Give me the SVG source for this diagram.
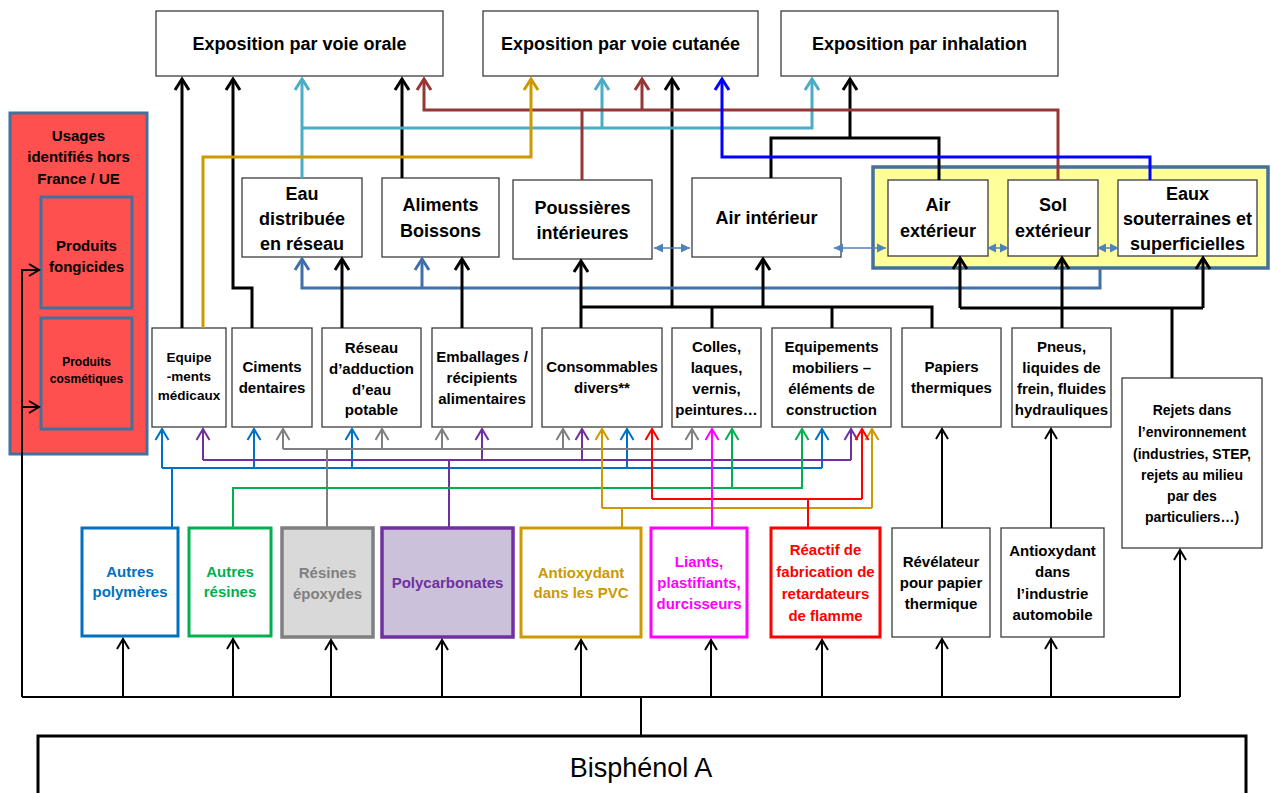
<svg xmlns="http://www.w3.org/2000/svg" width="1271" height="793" viewBox="0 0 1271 793">
<style>
.box{fill:#fff;stroke:#3c3c3c;stroke-width:1.3}
.t{font-family:"Liberation Sans",Arial,sans-serif;font-weight:bold;text-anchor:middle;fill:#000}
.s18{font-size:18px}.s15{font-size:15px}.s14{font-size:14px}.s13{font-size:13.5px}.s12{font-size:12px}
.w3{fill:none;stroke-width:3}
.w2{fill:none;stroke-width:2}
.k{stroke:#000}.cy{stroke:#4BACC6}.br{stroke:#953735}.go{stroke:#CC9900}.bl{stroke:#0000FF}.st{stroke:#4170A8}
.b2{stroke:#0070C0}.pu{stroke:#7030A0}.gr{stroke:#808080}.gn{stroke:#00B050}.rd{stroke:#FF0000}.mg{stroke:#FF00FF}
.bd{fill:none;stroke:#4F81BD;stroke-width:1.5}
</style>
<defs>
<marker id="ak3" markerUnits="userSpaceOnUse" orient="auto" overflow="visible" refX="0" refY="0"><path d="M-11,-7 L0,0 L-11,7" fill="none" stroke="#000" stroke-width="3"/></marker>
<marker id="acy" markerUnits="userSpaceOnUse" orient="auto" overflow="visible" refX="0" refY="0"><path d="M-11,-7 L0,0 L-11,7" fill="none" stroke="#4BACC6" stroke-width="3"/></marker>
<marker id="abr" markerUnits="userSpaceOnUse" orient="auto" overflow="visible" refX="0" refY="0"><path d="M-11,-7 L0,0 L-11,7" fill="none" stroke="#953735" stroke-width="3"/></marker>
<marker id="ago3" markerUnits="userSpaceOnUse" orient="auto" overflow="visible" refX="0" refY="0"><path d="M-11,-7 L0,0 L-11,7" fill="none" stroke="#CC9900" stroke-width="3"/></marker>
<marker id="abl" markerUnits="userSpaceOnUse" orient="auto" overflow="visible" refX="0" refY="0"><path d="M-11,-7 L0,0 L-11,7" fill="none" stroke="#0000FF" stroke-width="3"/></marker>
<marker id="ast" markerUnits="userSpaceOnUse" orient="auto" overflow="visible" refX="0" refY="0"><path d="M-11,-7 L0,0 L-11,7" fill="none" stroke="#4170A8" stroke-width="3"/></marker>
<marker id="ab2" markerUnits="userSpaceOnUse" orient="auto" overflow="visible" refX="0" refY="0"><path d="M-11,-6.5 L0,0 L-11,6.5" fill="none" stroke="#0070C0" stroke-width="2"/></marker>
<marker id="apu" markerUnits="userSpaceOnUse" orient="auto" overflow="visible" refX="0" refY="0"><path d="M-11,-6.5 L0,0 L-11,6.5" fill="none" stroke="#7030A0" stroke-width="2"/></marker>
<marker id="agr" markerUnits="userSpaceOnUse" orient="auto" overflow="visible" refX="0" refY="0"><path d="M-11,-6.5 L0,0 L-11,6.5" fill="none" stroke="#808080" stroke-width="2"/></marker>
<marker id="agn" markerUnits="userSpaceOnUse" orient="auto" overflow="visible" refX="0" refY="0"><path d="M-11,-6.5 L0,0 L-11,6.5" fill="none" stroke="#00B050" stroke-width="2"/></marker>
<marker id="ago2" markerUnits="userSpaceOnUse" orient="auto" overflow="visible" refX="0" refY="0"><path d="M-11,-6.5 L0,0 L-11,6.5" fill="none" stroke="#CC9900" stroke-width="2"/></marker>
<marker id="ard" markerUnits="userSpaceOnUse" orient="auto" overflow="visible" refX="0" refY="0"><path d="M-11,-6.5 L0,0 L-11,6.5" fill="none" stroke="#FF0000" stroke-width="2"/></marker>
<marker id="amg" markerUnits="userSpaceOnUse" orient="auto" overflow="visible" refX="0" refY="0"><path d="M-11,-6.5 L0,0 L-11,6.5" fill="none" stroke="#FF00FF" stroke-width="2"/></marker>
<marker id="ak2" markerUnits="userSpaceOnUse" orient="auto" overflow="visible" refX="0" refY="0"><path d="M-10,-6 L0,0 L-10,6" fill="none" stroke="#000" stroke-width="2"/></marker>
<marker id="abd" markerUnits="userSpaceOnUse" orient="auto-start-reverse" overflow="visible" refX="0" refY="0"><path d="M-9,-4.5 L0,0 L-9,4.5 Z" fill="#4F81BD"/></marker>
</defs>

<!-- top exposure boxes -->
<g id="exp-orale"><rect class="box" x="156" y="11" width="287" height="65"/><text class="t s18" x="299.5" y="50">Exposition par voie orale</text></g>
<g id="exp-cutanee"><rect class="box" x="483" y="11" width="275" height="65"/><text class="t s18" x="620.5" y="50">Exposition par voie cutanée</text></g>
<g id="exp-inhalation"><rect class="box" x="781" y="11" width="277" height="65"/><text class="t s18" x="919.5" y="50">Exposition par inhalation</text></g>

<!-- hors UE -->
<g id="hors-ue">
  <rect x="10" y="113" width="137" height="341" fill="#FF5050" stroke="#41719C" stroke-width="3"/>
  <text class="t s15" x="78.5" y="141">Usages</text>
  <text class="t s15" x="78.5" y="162">identifiés hors</text>
  <text class="t s15" x="78.5" y="184">France / UE</text>
</g>
<g id="fongicides"><rect x="41" y="197" width="91" height="111" fill="#FF5050" stroke="#41719C" stroke-width="3"/><text class="t s15" x="86.5" y="251">Produits</text><text class="t s15" x="86.5" y="272">fongicides</text></g>
<g id="cosmetiques"><rect x="41" y="318" width="91" height="111" fill="#FF5050" stroke="#41719C" stroke-width="3"/><text class="t s12" x="86.5" y="366">Produits</text><text class="t s12" x="86.5" y="383">cosmétiques</text></g>

<!-- media -->
<g id="eau"><rect class="box" x="242" y="178" width="120" height="79"/><text class="t s18" x="302" y="200">Eau</text><text class="t s18" x="302" y="225">distribuée</text><text class="t s18" x="302" y="250">en réseau</text></g>
<g id="aliments"><rect class="box" x="382" y="178" width="117" height="79"/><text class="t s18" x="440.5" y="211">Aliments</text><text class="t s18" x="440.5" y="237">Boissons</text></g>
<g id="poussieres"><rect class="box" x="513" y="180" width="139" height="79"/><text class="t s18" x="582.5" y="214">Poussières</text><text class="t s18" x="582.5" y="239">intérieures</text></g>
<g id="air-int"><rect class="box" x="692" y="178" width="149" height="79"/><text class="t s18" x="766.5" y="224">Air intérieur</text></g>
<g id="environnement"><rect x="873" y="167" width="395" height="101" fill="#FFFF99" stroke="#41719C" stroke-width="3.5"/></g>
<g id="air-ext"><rect class="box" x="888" y="180" width="100" height="76"/><text class="t s18" x="938" y="211">Air</text><text class="t s18" x="938" y="237">extérieur</text></g>
<g id="sol"><rect class="box" x="1008" y="180" width="90" height="76"/><text class="t s18" x="1053" y="211">Sol</text><text class="t s18" x="1053" y="237">extérieur</text></g>
<g id="eaux"><rect class="box" x="1118" y="180" width="139" height="76"/><text class="t s18" x="1187.5" y="200">Eaux</text><text class="t s18" x="1187.5" y="225">souterraines et</text><text class="t s18" x="1187.5" y="250">superficielles</text></g>

<!-- usages -->
<g id="equipements-medicaux"><rect class="box" x="152" y="328" width="74" height="99"/><text class="t s13" x="189" y="362">Equipe</text><text class="t s13" x="189" y="381">-ments</text><text class="t s13" x="189" y="400">médicaux</text></g>
<g id="ciments"><rect class="box" x="232" y="328" width="80" height="99"/><text class="t s15" x="272" y="372">Ciments</text><text class="t s15" x="272" y="393">dentaires</text></g>
<g id="reseau"><rect class="box" x="322" y="328" width="99" height="99"/><text class="t s15" x="371.5" y="353">Réseau</text><text class="t s15" x="371.5" y="374">d’adduction</text><text class="t s15" x="371.5" y="395">d’eau</text><text class="t s15" x="371.5" y="415">potable</text></g>
<g id="emballages"><rect class="box" x="432" y="328" width="100" height="99"/><text class="t s15" x="482" y="362">Emballages /</text><text class="t s15" x="482" y="383">récipients</text><text class="t s15" x="482" y="404">alimentaires</text></g>
<g id="consommables"><rect class="box" x="542" y="328" width="120" height="99"/><text class="t s15" x="602" y="372">Consommables</text><text class="t s15" x="602" y="393">divers**</text></g>
<g id="colles"><rect class="box" x="672" y="328" width="89" height="99"/><text class="t s15" x="716.5" y="352">Colles,</text><text class="t s15" x="716.5" y="373">laques,</text><text class="t s15" x="716.5" y="394">vernis,</text><text class="t s15" x="716.5" y="415">peintures…</text></g>
<g id="equipements-mobiliers"><rect class="box" x="772" y="328" width="119" height="99"/><text class="t s15" x="831.5" y="352">Equipements</text><text class="t s15" x="831.5" y="373">mobiliers –</text><text class="t s15" x="831.5" y="394">éléments de</text><text class="t s15" x="831.5" y="415">construction</text></g>
<g id="papiers"><rect class="box" x="902" y="328" width="99" height="99"/><text class="t s15" x="951.5" y="372">Papiers</text><text class="t s15" x="951.5" y="393">thermiques</text></g>
<g id="pneus"><rect class="box" x="1012" y="328" width="99" height="99"/><text class="t s15" x="1061.5" y="352">Pneus,</text><text class="t s15" x="1061.5" y="373">liquides de</text><text class="t s15" x="1061.5" y="394">frein, fluides</text><text class="t s15" x="1061.5" y="415">hydrauliques</text></g>
<g id="rejets"><rect class="box" x="1122" y="378" width="140" height="170"/><text class="t s14" x="1192" y="415">Rejets  dans</text><text class="t s14" x="1192" y="437">l’environnement</text><text class="t s14" x="1192" y="459">(industries, STEP,</text><text class="t s14" x="1192" y="480">rejets au milieu</text><text class="t s14" x="1192" y="501">par des</text><text class="t s14" x="1192" y="522">particuliers…)</text></g>

<!-- materials -->
<g id="autres-polymeres"><rect x="82" y="528" width="96" height="108" fill="#fff" stroke="#0070C0" stroke-width="3"/><text class="t s15" x="130" y="577" style="fill:#0070C0">Autres</text><text class="t s15" x="130" y="597" style="fill:#0070C0">polymères</text></g>
<g id="autres-resines"><rect x="189" y="528" width="82" height="108" fill="#fff" stroke="#00B050" stroke-width="3"/><text class="t s15" x="230" y="577" style="fill:#00B050">Autres</text><text class="t s15" x="230" y="597" style="fill:#00B050">résines</text></g>
<g id="resines-epoxydes"><rect x="282" y="528" width="91" height="109" fill="#D9D9D9" stroke="#7F7F7F" stroke-width="3.5"/><text class="t s15" x="327.5" y="578" style="fill:#808080">Résines</text><text class="t s15" x="327.5" y="599" style="fill:#808080">époxydes</text></g>
<g id="polycarbonates"><rect x="382" y="528" width="131" height="109" fill="#CCC1DA" stroke="#7030A0" stroke-width="3.5"/><text class="t s15" x="447.5" y="588" style="fill:#7030A0">Polycarbonates</text></g>
<g id="antiox-pvc"><rect x="521" y="528" width="120" height="109" fill="#fff" stroke="#CC9900" stroke-width="3"/><text class="t s15" x="581" y="578" style="fill:#CC9900">Antioxydant</text><text class="t s15" x="581" y="598" style="fill:#CC9900">dans les PVC</text></g>
<g id="liants"><rect x="651" y="528" width="96" height="109" fill="#fff" stroke="#FF00FF" stroke-width="3"/><text class="t s15" x="699" y="567" style="fill:#FF00FF">Liants,</text><text class="t s15" x="699" y="588" style="fill:#FF00FF">plastifiants,</text><text class="t s15" x="699" y="609" style="fill:#FF00FF">durcisseurs</text></g>
<g id="reactif"><rect x="771" y="528" width="109" height="109" fill="#fff" stroke="#FF0000" stroke-width="3"/><text class="t s15" x="825.5" y="555" style="fill:#FF0000">Réactif de</text><text class="t s15" x="825.5" y="577" style="fill:#FF0000">fabrication de</text><text class="t s15" x="825.5" y="599" style="fill:#FF0000">retardateurs</text><text class="t s15" x="825.5" y="621" style="fill:#FF0000">de flamme</text></g>
<g id="revelateur"><rect class="box" x="892" y="528" width="98" height="109"/><text class="t s15" x="941" y="567">Révélateur</text><text class="t s15" x="941" y="588">pour papier</text><text class="t s15" x="941" y="609">thermique</text></g>
<g id="antiox-auto"><rect class="box" x="1001" y="528" width="103" height="109"/><text class="t s15" x="1052.5" y="556">Antioxydant</text><text class="t s15" x="1052.5" y="577">dans</text><text class="t s15" x="1052.5" y="599">l’industrie</text><text class="t s15" x="1052.5" y="620">automobile</text></g>

<!-- BPA -->
<g id="bisphenol"><rect x="38" y="736" width="1208" height="70" fill="#fff" stroke="#000" stroke-width="3"/><text x="641" y="777" text-anchor="middle" font-family="Liberation Sans, Arial, sans-serif" font-size="27">Bisphénol A</text></g>

<!-- connectors -->
<g id="connectors">
  <!-- top level -->
  <path class="w3 k" d="M182,328 V79" marker-end="url(#ak3)"/>
  <path class="w3 k" d="M252,328 V288 H233 V79" marker-end="url(#ak3)"/>
  <path class="w3 k" d="M402,178 V79" marker-end="url(#ak3)"/>
  <path class="w3 k" d="M672,307 V79" marker-end="url(#ak3)"/>
  <path class="w3 k" d="M771,178 V138 H939 V180"/>
  <path class="w3 k" d="M850,138 V79" marker-end="url(#ak3)"/>
  <path class="w3 cy" d="M302,178 V79" marker-end="url(#acy)"/>
  <path class="w3 cy" d="M302,128 H812 V79" marker-end="url(#acy)"/>
  <path class="w3 cy" d="M602,128 V79" marker-end="url(#acy)"/>
  <path class="w3 br" d="M1058,180 V110 H424 V79" marker-end="url(#abr)"/>
  <path class="w3 br" d="M642,110 V79" marker-end="url(#abr)"/>
  <path class="w3 br" d="M582,110 V180"/>
  <path class="w3 go" d="M203,328 V157 H531 V79" marker-end="url(#ago3)"/>
  <path class="w3 bl" d="M1150,180 V157 H722 V79" marker-end="url(#abl)"/>
  <path class="w3 st" d="M1100,268 V288 H302 V259" marker-end="url(#ast)"/>
  <path class="w3 st" d="M422,288 V259" marker-end="url(#ast)"/>
  <!-- sources to media -->
  <path class="w3 k" d="M342,328 V259" marker-end="url(#ak3)"/>
  <path class="w3 k" d="M462,328 V259" marker-end="url(#ak3)"/>
  <path class="w3 k" d="M581,328 V261" marker-end="url(#ak3)"/>
  <path class="w3 k" d="M581,307 H932 V328 M712,328 V307 M832,328 V307"/>
  <path class="w3 k" d="M763,307 V259" marker-end="url(#ak3)"/>
  <path class="w3 k" d="M960,308 H1203 M1172,378 V308"/>
  <path class="w3 k" d="M960,308 V258" marker-end="url(#ak3)"/>
  <path class="w3 k" d="M1062,328 V258" marker-end="url(#ak3)"/>
  <path class="w3 k" d="M1203,308 V258" marker-end="url(#ak3)"/>
  <!-- bidirectional -->
  <path class="bd" d="M654,248 H690" marker-start="url(#abd)" marker-end="url(#abd)"/>
  <path class="bd" d="M834,248 H886" marker-start="url(#abd)" marker-end="url(#abd)"/>
  <path class="bd" d="M987,248 H1009" marker-start="url(#abd)" marker-end="url(#abd)"/>
  <path class="bd" d="M1097,248 H1119" marker-start="url(#abd)" marker-end="url(#abd)"/>
  <!-- second level -->
  <path class="w2 b2" d="M172,528 V468 M162,468 H822"/>
  <path class="w2 b2" d="M162,468 V429" marker-end="url(#ab2)"/>
  <path class="w2 b2" d="M254,468 V429" marker-end="url(#ab2)"/>
  <path class="w2 b2" d="M352,468 V429" marker-end="url(#ab2)"/>
  <path class="w2 b2" d="M627,468 V429" marker-end="url(#ab2)"/>
  <path class="w2 b2" d="M822,468 V429" marker-end="url(#ab2)"/>
  <path class="w2 pu" d="M449,528 V460 M203,460 H851"/>
  <path class="w2 pu" d="M203,460 V429" marker-end="url(#apu)"/>
  <path class="w2 pu" d="M482,460 V429" marker-end="url(#apu)"/>
  <path class="w2 pu" d="M582,460 V429" marker-end="url(#apu)"/>
  <path class="w2 pu" d="M851,460 V429" marker-end="url(#apu)"/>
  <path class="w2 gr" d="M327,528 V449 M283,449 H692"/>
  <path class="w2 gr" d="M283,449 V429" marker-end="url(#agr)"/>
  <path class="w2 gr" d="M382,449 V429" marker-end="url(#agr)"/>
  <path class="w2 gr" d="M442,449 V429" marker-end="url(#agr)"/>
  <path class="w2 gr" d="M563,449 V429" marker-end="url(#agr)"/>
  <path class="w2 gr" d="M692,449 V429" marker-end="url(#agr)"/>
  <path class="w2 gn" d="M233,528 V488 H802 V429" marker-end="url(#agn)"/>
  <path class="w2 gn" d="M732,488 V429" marker-end="url(#agn)"/>
  <path class="w2 go" d="M622,528 V508 M602,508 H872"/>
  <path class="w2 go" d="M602,508 V429" marker-end="url(#ago2)"/>
  <path class="w2 go" d="M872,508 V429" marker-end="url(#ago2)"/>
  <path class="w2 rd" d="M808,528 V499 M652,499 H862"/>
  <path class="w2 rd" d="M652,499 V429" marker-end="url(#ard)"/>
  <path class="w2 rd" d="M862,499 V429" marker-end="url(#ard)"/>
  <path class="w2 mg" d="M712,528 V429" marker-end="url(#amg)"/>
  <path class="w2 k" d="M942,528 V429" marker-end="url(#ak2)"/>
  <path class="w2 k" d="M1051,528 V429" marker-end="url(#ak2)"/>
  <!-- bottom -->
  <path class="w2 k" d="M22,697 H1180 M641,697 V736"/>
  <path class="w2 k" d="M22,697 V270 H39" marker-end="url(#ak2)"/>
  <path class="w2 k" d="M22,407 H39" marker-end="url(#ak2)"/>
  <path class="w2 k" d="M123,697 V639" marker-end="url(#ak2)"/>
  <path class="w2 k" d="M233,697 V639" marker-end="url(#ak2)"/>
  <path class="w2 k" d="M331,697 V640" marker-end="url(#ak2)"/>
  <path class="w2 k" d="M442,697 V640" marker-end="url(#ak2)"/>
  <path class="w2 k" d="M581,697 V640" marker-end="url(#ak2)"/>
  <path class="w2 k" d="M711,697 V640" marker-end="url(#ak2)"/>
  <path class="w2 k" d="M822,697 V640" marker-end="url(#ak2)"/>
  <path class="w2 k" d="M942,697 V639" marker-end="url(#ak2)"/>
  <path class="w2 k" d="M1051,697 V639" marker-end="url(#ak2)"/>
  <path class="w2 k" d="M1180,697 V550" marker-end="url(#ak2)"/>
</g>
</svg>
